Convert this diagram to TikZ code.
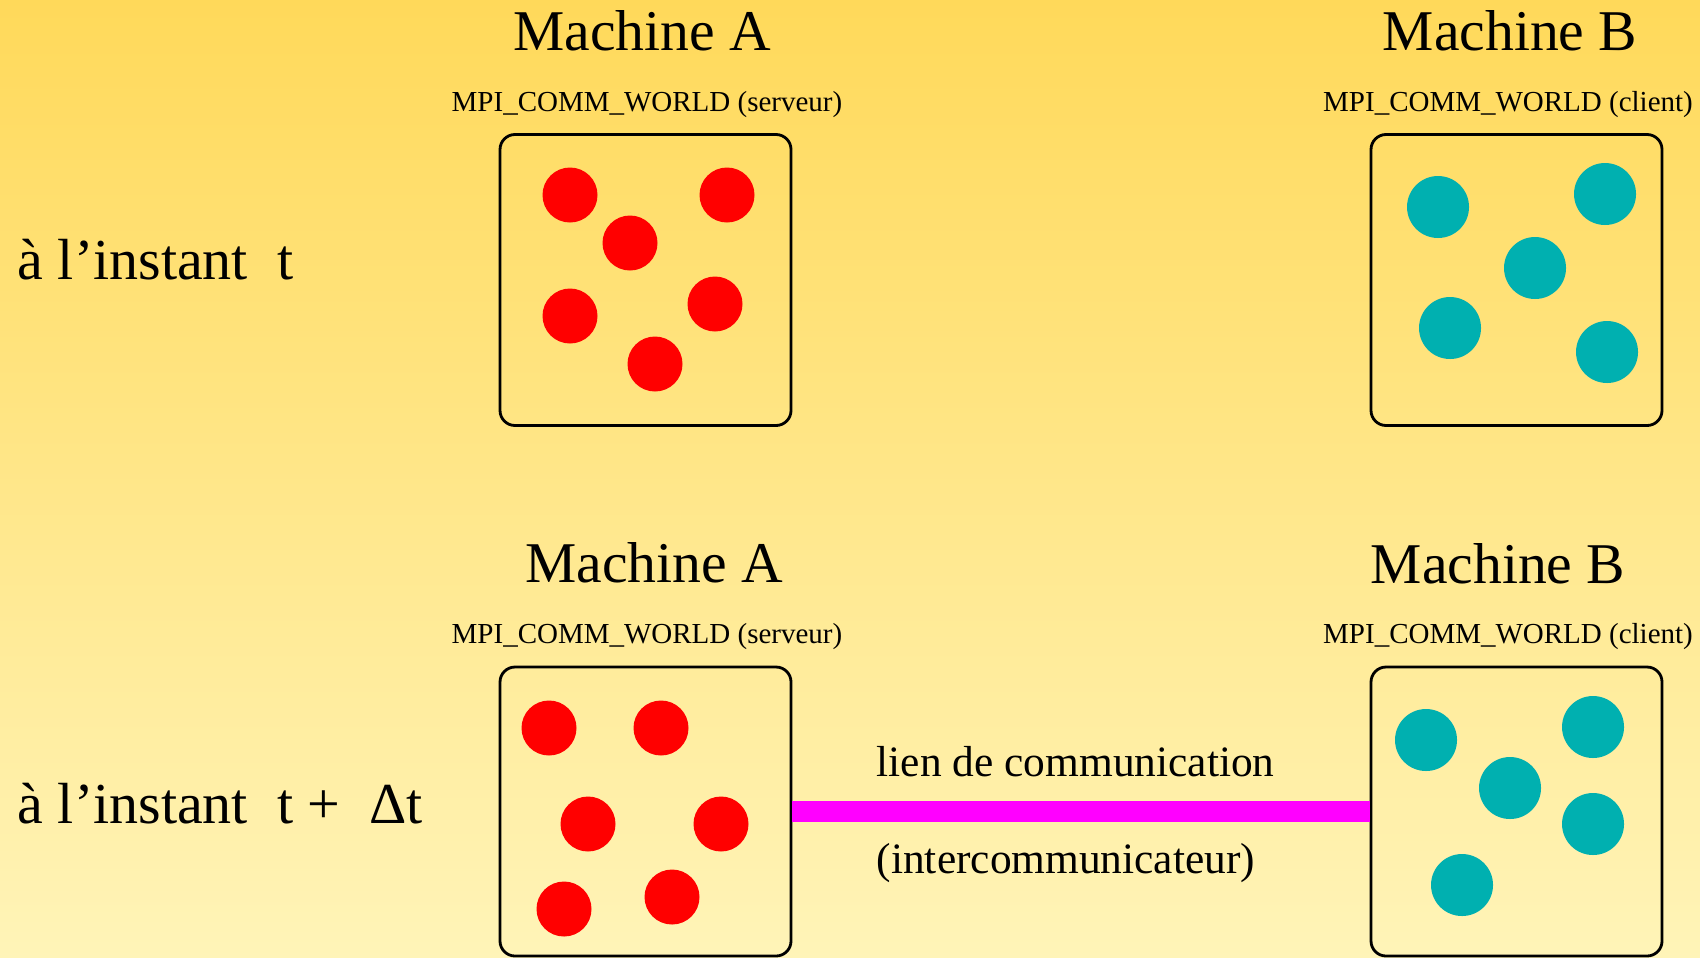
\documentclass[tikz,border=0pt]{standalone}
\usepackage{fontspec}
\setmainfont{Liberation Serif}
\usetikzlibrary{positioning}
\definecolor{bgtop}{HTML}{FFD95A}
\definecolor{bgmid}{HTML}{FFE680}
\definecolor{bgbottom}{HTML}{FFF4B8}
\definecolor{procred}{HTML}{FF0000}
\definecolor{procteal}{HTML}{00B0B0}
\definecolor{linkmagenta}{HTML}{FF00FF}
\tikzset{
  machine/.style={draw=black, line width=0.8pt, rounded corners=1.5mm,
    minimum width=29.1mm, minimum height=29.1mm, inner sep=0pt},
  redproc/.style={circle, fill=procred, inner sep=0pt, minimum size=5.5mm},
  tealproc/.style={circle, fill=procteal, inner sep=0pt, minimum size=6.2mm},
  title/.style={anchor=base, inner sep=0pt, font=\fontsize{16.4pt}{18pt}\selectfont},
  commlabel/.style={anchor=base, inner sep=0pt, font=\fontsize{8.25pt}{10pt}\selectfont},
  linklabel/.style={anchor=base west, inner sep=0pt, font=\fontsize{12.35pt}{14pt}\selectfont},
  instant/.style={anchor=base west, inner sep=0pt, font=\fontsize{16.5pt}{18pt}\selectfont},
  link/.style={draw=linkmagenta, line width=2.1mm}
}
\begin{document}
\begin{tikzpicture}[x=0.1mm, y=-0.1mm]
  \useasboundingbox (0,0) rectangle (1700,957);
  \shade[top color=bgtop, middle color=bgmid, bottom color=bgbottom] (0,0) rectangle (1700,957);

  % instant t
  \node[instant] (t1) at (17,279) {à l’instant~~t};
  \node[title] (titleA1) at (642,50) {Machine A};
  \node[commlabel] (commA1) at (647,111) {MPI\_COMM\_WORLD (serveur)};
  \node[machine] (A1) at (645.5,280) {};
  \foreach \x/\y [count=\i] in {570/195, 727/195, 630/243, 570/316, 715/304, 655/364}
    \node[redproc] (pa1\i) at (\x,\y) {};

  \node[title] (titleB1) at (1510,50) {Machine B};
  \node[commlabel] (commB1) at (1508,111) {MPI\_COMM\_WORLD (client)};
  \node[machine] (B1) at (1516.5,280) {};
  \foreach \x/\y [count=\i] in {1438/207, 1605/194, 1535/268, 1450/328, 1607/352}
    \node[tealproc] (pb1\i) at (\x,\y) {};

  % instant t + dt
  \node[instant] (t2) at (17,823) {à l’instant~~t +~~Δt};
  \node[title] (titleA2) at (654,582) {Machine A};
  \node[commlabel] (commA2) at (647,643) {MPI\_COMM\_WORLD (serveur)};
  \node[machine, minimum height=28.9mm] (A2) at (645.5,811.5) {};
  \foreach \x/\y [count=\i] in {549/728, 661/728, 588/824, 721/824, 564/909, 672/897}
    \node[redproc] (pa2\i) at (\x,\y) {};

  \node[title] (titleB2) at (1498,583) {Machine B};
  \node[commlabel] (commB2) at (1508,643) {MPI\_COMM\_WORLD (client)};
  \node[machine, minimum height=28.9mm] (B2) at (1516.5,811.5) {};
  \foreach \x/\y [count=\i] in {1426/740, 1593/727, 1510/788, 1593/824, 1462/885}
    \node[tealproc] (pb2\i) at (\x,\y) {};

  \draw[link] (A2.east) -- (B2.west);
  \node[linklabel] (linktop) at (876,776) {lien de communication};
  \node[linklabel] (linkbot) at (876,873) {(intercommunicateur)};
\end{tikzpicture}
\end{document}
